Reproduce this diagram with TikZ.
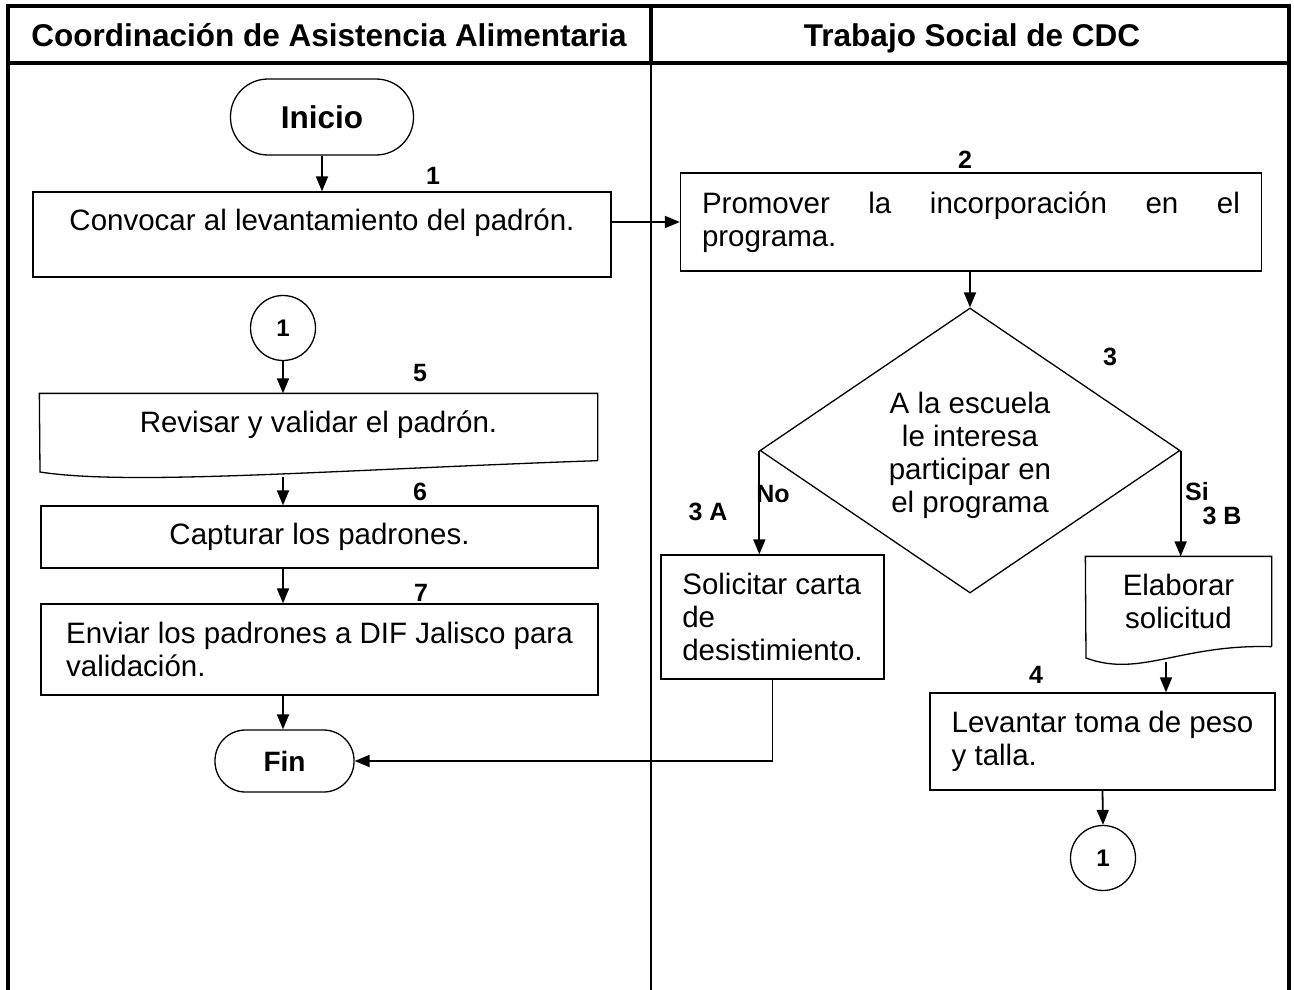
\documentclass[tikz,border=0pt]{standalone}
\usepackage{fontspec}
\setmainfont{Liberation Sans}
\usetikzlibrary{arrows.meta,shapes.geometric}

\begin{document}
\begin{tikzpicture}[x=1pt,y=-1pt,
  caja/.style={draw,line width=1.3pt,inner sep=0pt,font=\fontsize{29.5}{33}\selectfont},
  flecha/.style={line width=1.8pt,-{Triangle[length=15pt,width=12pt]}},
  num/.style={font=\fontsize{25}{28}\selectfont\bfseries},
  term/.style={caja,rounded corners=30.5pt,font=\fontsize{31.5}{35}\selectfont\bfseries},
  conector/.style={caja,circle,minimum size=65pt,font=\fontsize{24}{27}\selectfont\bfseries}]
\useasboundingbox (0,0) rectangle (1294,990);
% marco y carriles
\draw[line width=3.5pt] (8,990) -- (8,6) -- (1289,6) -- (1289,990);
\draw[line width=3.5pt] (8,63) -- (1289,63);
\draw[line width=3.5pt] (651,6) -- (651,63);
\draw[line width=2pt] (651,63) -- (651,990);
\node[anchor=base,font=\fontsize{31.5}{35}\selectfont\bfseries] (h1) at (329,47) {Coordinación de Asistencia Alimentaria};
\node[anchor=base,font=\fontsize{31.5}{35}\selectfont\bfseries] (h2) at (972,47) {Trabajo Social de CDC};
% carril izquierdo
\node[term,rounded corners=37.5pt,minimum width=183pt,minimum height=76pt] (inicio) at (322,117) {Inicio};
\node[caja,minimum width=578pt,minimum height=85pt,text height=21pt,text depth=30pt] (p1) at (322,234.5) {Convocar al levantamiento del padrón.};
\node[conector] (c1a) at (283,328) {1};
\node[caja,draw=none,minimum width=557pt,minimum height=66pt,text height=21pt,text depth=11pt] (p5) at (318.5,427) {Revisar y validar el padrón.};
\draw[line width=1.3pt] (p5.south east) -- (p5.north east) -- (p5.north west) -- (40,472)
  .. controls (130,486) and (330,470) .. (p5.south east);
\coordinate (p5b) at (283,477);
\node[caja,minimum width=557pt,minimum height=62pt] (p6) at (319.5,537) {Capturar los padrones.};
\node[caja,minimum width=557pt,minimum height=91pt,align=left] (p7) at (319.5,649.5) {Enviar los padrones a DIF Jalisco para\\validación.};
\node[term,minimum width=139pt,minimum height=62pt,font=\fontsize{28}{32}\selectfont\bfseries] (fin) at (284.5,761) {Fin};
% carril derecho
\node[caja,minimum width=581pt,minimum height=98pt,text width=538pt,align=justify] (p2) at (971,222) {Promover la incorporación en el\linebreak programa.};
\node[caja,shape=diamond,aspect=1.48,minimum width=420pt,minimum height=285pt,align=center] (dia) at (970,450.5) {\rule{0pt}{31pt}A la escuela\\le interesa\\participar en\\el programa};
\node[caja,minimum width=223pt,minimum height=124pt,align=left] (p3a) at (772.5,617) {Solicitar carta\\de\\desistimiento.};
\node[caja,draw=none,minimum width=185pt,minimum height=89pt,align=center] (p3b) at (1178.5,601.5) {Elaborar\\solicitud};
\draw[line width=1.3pt] (p3b.south east) -- (p3b.north east) -- (p3b.north west) -- (1086,658)
  .. controls (1140,678) and (1180,644) .. (p3b.south east);
\coordinate (p3bb) at (1166,662);
\node[caja,minimum width=345pt,minimum height=97pt,align=left] (p4) at (1102.5,741.5) {Levantar toma de peso\\y talla.};
\node[conector] (c1b) at (1103,858) {1};
% numeros de paso
\foreach \nom/\x/\y/\t in {n1/433/176/1, n2/965/160/2, n3/1110/357/3, n3a/708/512/3 A, n3b/1222/516/3 B,
  n4/1036/675/4, n5/420/373/5, n6/420/492/6, n7/421/593/7, no/773/494/No, si/1197/492/Si}
  \node[num] (\nom) at (\x,\y) {\t};
% flechas
\draw[flecha] (inicio.south) -- (inicio.south |- p1.north);
\draw[flecha] (p2.west -| p1.east) -- (p2.west);
\draw[flecha] (dia.north |- p2.south) -- (dia.north);
\draw[flecha] (dia.west) -- (dia.west |- p3a.north);
\draw[flecha] (dia.east) -- (dia.east |- p3b.north);
\draw[flecha] (p3bb) -- (p3bb |- p4.north);
\draw[flecha] (p4.south) -- (c1b.north);
\draw[flecha] (c1a.south) -- (c1a.south |- p5.north);
\draw[flecha] (p5b) -- (p5b |- p6.north);
\draw[flecha] (c1a |- p6.south) -- (c1a |- p7.north);
\draw[flecha] (c1a |- p7.south) -- (c1a |- fin.north);
\draw[flecha] (p3a.south) |- (fin.east);
\end{tikzpicture}
\end{document}
